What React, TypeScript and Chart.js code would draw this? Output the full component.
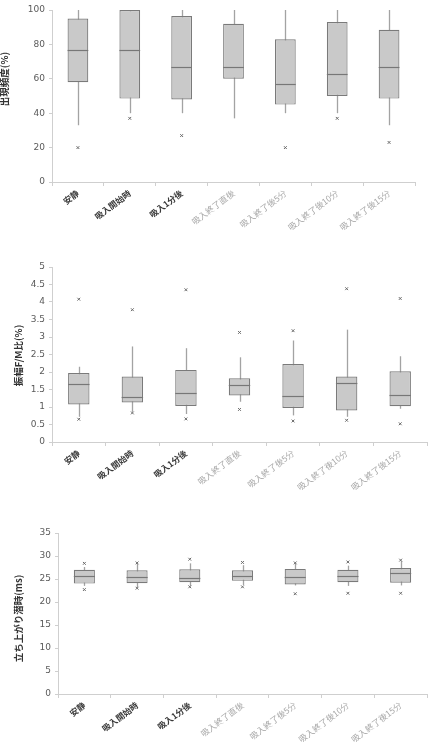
import React, { useEffect, useRef } from "react";
import { Chart, registerables } from "chart.js";

Chart.register(...registerables);

// Measurement phases shared by all three plots
const categories = [
  "安静",
  "吸入開始時",
  "吸入1分後",
  "吸入終了直後",
  "吸入終了後5分",
  "吸入終了後10分",
  "吸入終了後15分",
];

// 出現頻度 (%)
const freqLow = [33, 40, 40, 37, 40, 40, 33];
const freqQ1 = [58, 48.5, 48, 60, 45, 50, 48.5];
const freqMedian = [77, 77, 67, 67, 57, 63, 67];
const freqQ3 = [95, 100, 96.5, 92, 83, 93, 88.5];
const freqHigh = [100, 100, 100, 100, 100, 100, 100];
const freqOutliers = [[20], [37], [27], [], [20], [37], [23]];

// 振幅F/M比 (%)
const ampLow = [0.72, 0.86, 0.8, 1.15, 0.76, 0.72, 0.95];
const ampQ1 = [1.07, 1.13, 1.03, 1.33, 0.97, 0.9, 1.02];
const ampMedian = [1.66, 1.29, 1.4, 1.64, 1.31, 1.68, 1.35];
const ampQ3 = [1.97, 1.87, 2.06, 1.82, 2.23, 1.87, 2.02];
const ampHigh = [2.15, 2.73, 2.68, 2.42, 2.9, 3.21, 2.45];
const ampOutliers = [[4.08, 0.65], [3.78, 0.83], [4.35, 0.66], [3.13, 0.93], [3.18, 0.6], [4.38, 0.62], [4.1, 0.52]];

// 立ち上がり潜時 (ms)
const latLow = [23.5, 23.2, 23.5, 23.7, 23.6, 23.5, 23.6];
const latQ1 = [24.0, 24.1, 24.3, 24.6, 23.8, 24.3, 24.2];
const latMedian = [25.7, 25.5, 25.3, 25.7, 25.5, 25.7, 26.2];
const latQ3 = [27.0, 26.9, 27.1, 26.9, 27.2, 27.0, 27.4];
const latHigh = [27.6, 28.3, 28.4, 28.0, 28.4, 27.9, 28.9];
const latOutliers = [[28.4, 22.7], [28.5, 23.0], [29.3, 23.3], [28.6, 23.3], [28.5, 21.8], [28.7, 21.9], [29.1, 21.9]];

const AXIS_COLOR = "#cfcfcf";
const JP_FONT = "'Noto Sans CJK JP', sans-serif";

type PlotSpec = {
  title: string;
  low: number[];
  q1: number[];
  median: number[];
  q3: number[];
  high: number[];
  outliers: number[][];
  yMax: number;
  yStep: number;
  top: number;
  height: number;
  padTop: number;
  padRight: number;
  yAxisWidth: number;
  xAxisHeight: number;
  titleX: number;
  titleShift: number;
};

const plots: PlotSpec[] = [
  {
    title: "出現頻度(%)",
    low: freqLow, q1: freqQ1, median: freqMedian, q3: freqQ3, high: freqHigh, outliers: freqOutliers,
    yMax: 100, yStep: 20,
    top: 0, height: 240, padTop: 10, padRight: 17, yAxisWidth: 52, xAxisHeight: 58,
    titleX: 4, titleShift: -17,
  },
  {
    title: "振幅F/M比(%)",
    low: ampLow, q1: ampQ1, median: ampMedian, q3: ampQ3, high: ampHigh, outliers: ampOutliers,
    yMax: 5, yStep: 0.5,
    top: 250, height: 245, padTop: 17, padRight: 1, yAxisWidth: 52, xAxisHeight: 53,
    titleX: 18, titleShift: 1,
  },
  {
    title: "立ち上がり潜時(ms)",
    low: latLow, q1: latQ1, median: latMedian, q3: latQ3, high: latHigh, outliers: latOutliers,
    yMax: 35, yStep: 5,
    top: 515, height: 227, padTop: 18, padRight: 2, yAxisWidth: 58, xAxisHeight: 48,
    titleX: 18, titleShift: 5,
  },
];

function BoxPlot({ spec }: { spec: PlotSpec }) {
  const ref = useRef<HTMLCanvasElement>(null);

  useEffect(() => {
    if (!ref.current) return;
    const boxes = spec.q1.map((q, i) => [q, spec.q3[i]]);
    const outlierPoints = spec.outliers.flatMap((vals, i) =>
      vals.map((v) => ({ x: categories[i], y: v }))
    );

    // whiskers behind the boxes, median lines on top of them
    const boxParts = {
      id: "boxParts",
      beforeDatasetsDraw(chart: any) {
        const { ctx } = chart;
        const y = chart.scales.y;
        const meta = chart.getDatasetMeta(0);
        ctx.save();
        ctx.strokeStyle = "#a3a3a3";
        ctx.lineWidth = 1.3;
        meta.data.forEach((bar: any, i: number) => {
          const x = Math.round(bar.x) + 0.5;
          ctx.beginPath();
          ctx.moveTo(x, y.getPixelForValue(spec.low[i]));
          ctx.lineTo(x, y.getPixelForValue(spec.high[i]));
          ctx.stroke();
        });
        ctx.restore();
      },
      afterDatasetsDraw(chart: any) {
        const { ctx } = chart;
        const y = chart.scales.y;
        const meta = chart.getDatasetMeta(0);
        ctx.save();
        ctx.strokeStyle = "#777777";
        ctx.lineWidth = 1.2;
        meta.data.forEach((bar: any, i: number) => {
          const py = Math.round(y.getPixelForValue(spec.median[i])) + 0.5;
          ctx.beginPath();
          ctx.moveTo(bar.x - bar.width / 2, py);
          ctx.lineTo(bar.x + bar.width / 2, py);
          ctx.stroke();
        });
        ctx.restore();
      },
    };

    // vertical axis title beside the tick labels
    const yTitle = {
      id: "yTitle",
      afterDraw(chart: any) {
        const { ctx, chartArea } = chart;
        ctx.save();
        ctx.translate(spec.titleX, (chartArea.top + chartArea.bottom) / 2 + spec.titleShift);
        ctx.rotate(-Math.PI / 2);
        ctx.font = `bold 9.5px ${JP_FONT}`;
        ctx.fillStyle = "#333333";
        ctx.textAlign = "center";
        ctx.textBaseline = "middle";
        ctx.fillText(spec.title, 0, 0);
        ctx.restore();
      },
    };

    const chart = new Chart(ref.current, {
      type: "bar",
      data: {
        labels: categories,
        datasets: [
          {
            type: "bar",
            data: boxes as any,
            backgroundColor: "#c9c9c9",
            borderColor: "#7a7a7a",
            borderWidth: 1.2,
            borderSkipped: false,
            barPercentage: 0.4,
            categoryPercentage: 1,
            order: 2,
          },
          {
            type: "line",
            data: outlierPoints as any,
            showLine: false,
            pointStyle: "crossRot",
            pointRadius: 2,
            pointBorderWidth: 1,
            pointBorderColor: "#6a6a6a",
            pointBackgroundColor: "#6a6a6a",
            order: 1,
          },
        ],
      },
      options: {
        responsive: false,
        animation: false,
        events: [],
        layout: { padding: { top: spec.padTop, right: spec.padRight, left: 0, bottom: 0 } },
        plugins: { legend: { display: false }, tooltip: { enabled: false } },
        scales: {
          x: {
            type: "category",
            offset: true,
            grid: {
              offset: true,
              drawOnChartArea: false,
              drawTicks: true,
              tickLength: 4,
              color: AXIS_COLOR,
            },
            border: { color: AXIS_COLOR, width: 1 },
            ticks: {
              autoSkip: false,
              minRotation: 37,
              maxRotation: 37,
              padding: 2,
              font: (ctx: any) => ({
                family: JP_FONT,
                size: 8.5,
                weight: ctx.index < 3 ? "bold" : "normal",
              }),
              color: (ctx: any) => (ctx.index < 3 ? "#3a3a3a" : "#a8a8a8"),
            },
            afterFit: (s: any) => {
              s.height = spec.xAxisHeight;
            },
          },
          y: {
            min: 0,
            max: spec.yMax,
            grid: {
              drawOnChartArea: false,
              drawTicks: true,
              tickLength: 3,
              color: AXIS_COLOR,
            },
            border: { color: AXIS_COLOR, width: 1 },
            ticks: {
              stepSize: spec.yStep,
              padding: 4,
              color: "#5a5a5a",
              font: { family: "'DejaVu Sans', sans-serif", size: 9 },
              callback: (v: any) => String(Number(v)),
            },
            title: { display: false },
            afterFit: (s: any) => {
              s.width = spec.yAxisWidth;
            },
          },
        },
      },
      plugins: [boxParts, yTitle],
    } as any);

    return () => chart.destroy();
  }, [spec]);

  return (
    <canvas
      ref={ref}
      width={432}
      height={spec.height}
      style={{ position: "absolute", left: 0, top: spec.top, width: 432, height: spec.height }}
    />
  );
}

export default function App() {
  return (
    <div
      style={{
        position: "absolute",
        left: 0,
        top: 0,
        width: 432,
        height: 742,
        overflow: "hidden",
        background: "#ffffff",
      }}
    >
      {plots.map((p) => (
        <BoxPlot key={p.title} spec={p} />
      ))}
    </div>
  );
}
